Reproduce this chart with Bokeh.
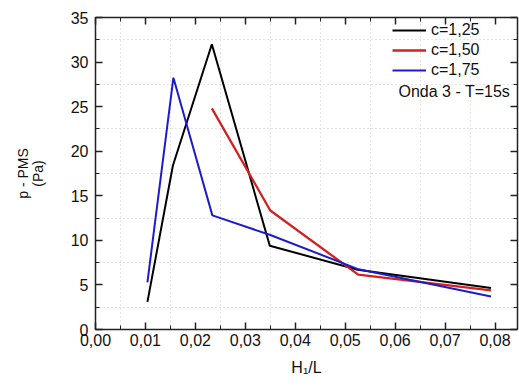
import math
from bokeh.plotting import figure
from bokeh.models import (Range1d, LinearAxis, SingleIntervalTicker, FixedTicker,
                          Label, Legend, LegendItem, CustomJSTickFormatter, Grid,
                          CustomLabelingPolicy)
from bokeh.embed import file_html
from bokeh.resources import INLINE

# ---- data ----
x_c125 = [0.0104, 0.0155, 0.0233, 0.0349, 0.0525, 0.0792]
y_c125 = [3.1, 18.4, 32.0, 9.4, 6.7, 4.65]
x_c150 = [0.0233, 0.0350, 0.0526, 0.0792]
y_c150 = [24.8, 13.35, 6.15, 4.4]
x_c175 = [0.0104, 0.0156, 0.0234, 0.0350, 0.0527, 0.0792]
y_c175 = [5.3, 28.25, 12.8, 10.6, 6.75, 3.7]
series_labels = ["c=1,25", "c=1,50", "c=1,75"]
note_text = "Onda 3 - T=15s"
y_label = "p - PMS\n(Pa)"
x_label = "H\u2081/L"

FONT = "Liberation Sans"
FS = "16px"
AX = "#222222"

p = figure(frame_width=422, frame_height=312, output_backend="svg", toolbar_location=None,
           x_range=Range1d(0, 0.0845), y_range=Range1d(0, 35),
           x_axis_type=None, y_axis_type=None)
p.min_border_left = 95
p.min_border_right = 2
p.min_border_top = 17
p.min_border_bottom = 56
p.outline_line_color = None
p.background_fill_color = "white"
p.border_fill_color = "white"

xt = SingleIntervalTicker(interval=0.01, num_minor_ticks=2)
yt = SingleIntervalTicker(interval=5, num_minor_ticks=2)
xfmt = CustomJSTickFormatter(code="return tick.toFixed(2).replace('.', ',');")

def style(ax, labels=True):
    ax.axis_line_color = AX
    ax.axis_line_width = 1.5
    ax.major_tick_line_color = AX
    ax.minor_tick_line_color = AX
    ax.major_tick_line_width = 1.5
    ax.minor_tick_line_width = 1
    ax.major_tick_in = 7
    ax.major_tick_out = 0
    ax.minor_tick_in = 4
    ax.minor_tick_out = 0
    ax.major_label_text_font = FONT
    ax.major_label_text_color = "#111111"
    ax.axis_label_text_font = FONT
    ax.axis_label_text_font_style = "normal"
    ax.axis_label_text_color = "#111111"
    if labels:
        ax.major_label_text_font_size = FS
    else:
        ax.major_label_text_font_size = "1px"
        ax.major_label_standoff = 0
        ax.major_label_policy = CustomLabelingPolicy(code="if (false) { yield 0 }")

bx = LinearAxis(ticker=xt, formatter=xfmt, axis_label=x_label)
style(bx)
bx.major_label_standoff = 4
bx.axis_label_text_font_size = "16px"
bx.axis_label_standoff = 10
p.add_layout(bx, "below")

ly = LinearAxis(ticker=yt, axis_label=y_label)
style(ly)
ly.major_label_standoff = 7
ly.axis_label_text_font_size = "14px"
ly.axis_label_text_line_height = 0.9
ly.axis_label_standoff = 22
p.add_layout(ly, "left")

tx = LinearAxis(ticker=xt)
style(tx, labels=False)
p.add_layout(tx, "above")

ry = LinearAxis(ticker=yt)
style(ry, labels=False)
p.add_layout(ry, "right")

# grid at minor positions
p.xgrid.visible = False
p.ygrid.visible = False
gx = Grid(dimension=0, ticker=FixedTicker(ticks=[0.005 + 0.01 * i for i in range(8)]),
          grid_line_color="#c8c8c8", grid_line_dash="1 3", grid_line_width=1)
gy = Grid(dimension=1, ticker=FixedTicker(ticks=[2.5 + 5 * i for i in range(7)]),
          grid_line_color="#c8c8c8", grid_line_dash="1 3", grid_line_width=1)
p.add_layout(gx)
p.add_layout(gy)

r1 = p.line(x_c125, y_c125, line_color="black", line_width=2)
r2 = p.line(x_c150, y_c150, line_color="#d42020", line_width=2.3)
r3 = p.line(x_c175, y_c175, line_color="#1c1cc8", line_width=2)

legend = Legend(items=[LegendItem(label=series_labels[0], renderers=[r1]),
                       LegendItem(label=series_labels[1], renderers=[r2]),
                       LegendItem(label=series_labels[2], renderers=[r3])],
                location=(297, 249))
legend.border_line_color = None
legend.background_fill_alpha = 0
legend.padding = 0
legend.margin = 0
legend.spacing = 0
legend.glyph_width = 34
legend.glyph_height = 20
legend.label_height = 20
legend.label_standoff = 5
legend.label_text_font = FONT
legend.label_text_font_size = FS
legend.label_text_color = "#111111"
p.add_layout(legend)

p.add_layout(Label(x=303, y=238, x_units="screen", y_units="screen", text=note_text,
                   text_font=FONT, text_font_size=FS, text_color="#111111",
                   text_baseline="middle", text_align="left"))

open("out.html", "w").write(file_html(p, INLINE))
